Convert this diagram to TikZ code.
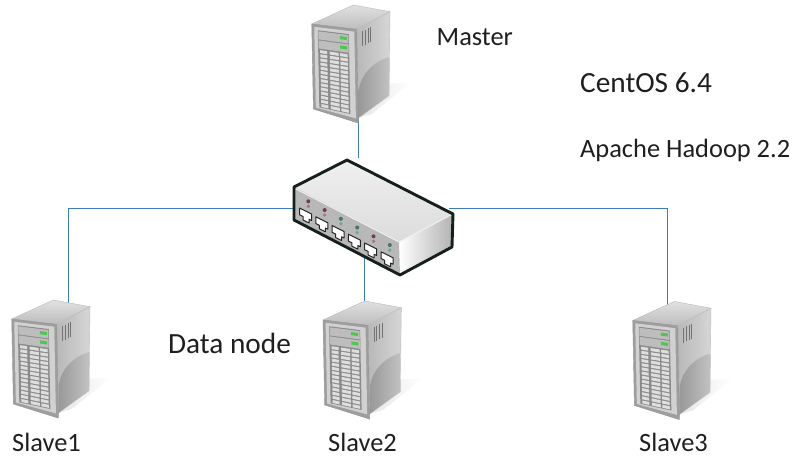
\documentclass[tikz,border=0pt]{standalone}
\usepackage{fontspec}
\setmainfont{Carlito}
\definecolor{linkblue}{HTML}{3E7CC0}
\definecolor{ledr}{HTML}{7A3A50}
\definecolor{ledg}{HTML}{3F7A5E}
\definecolor{swline}{HTML}{16201A}
\begin{document}
\begin{tikzpicture}[x=1pt,y=-1pt,
  declare function={
    ptx(\u,\v)=\u+0.02*\v;
    pty(\u,\v)=\v+\u*(0.118+0.0012*\v);
  },
  link/.style={draw=linkblue,line width=1pt},
  anchorbox/.style={inner sep=0pt,outer sep=0pt,minimum width=#1,minimum height=0pt},
  lab/.style={anchor=base west,inner sep=0pt,text=black!88},
  smalllab/.style={lab,font=\fontsize{26.4}{30}\selectfont},
  biglab/.style={lab,font=\fontsize{29.3}{34}\selectfont},
  server/.pic={
    % soft shadow
    \shade[left color=black!10,right color=white] (46,62) -- (100,58) -- (60,90) -- (46,94) -- cycle;
    % top
    \shade[top color=black!12,bottom color=black!26,draw=black!28,line width=.4pt]
      (0,0) -- (41.7,-19) -- (78.3,-12.3) -- (45,5.3) -- cycle;
    % side
    \shade[left color=black!28,right color=black!16,draw=black!26,line width=.4pt]
      (45,5.3) -- (78.3,-12.3) -- (77.3,71.7) -- (46.7,94) -- cycle;
    \shade[left color=black!40,right color=black!24]
      (47,66) .. controls (49,52) and (60,38) .. (77.5,33) -- (77.3,71.5) -- (47,93.5) -- cycle;
    \foreach \i in {0,1,2,3}{
      \draw[black!55,line width=1pt] ({51+2.7*\i},{7-1.3*\i}) -- ({51+2.7*\i},{22-1.3*\i});
    }
    % front frame
    \fill[black!38,draw=black!42,line width=.4pt]
      ({ptx(0,0)},{pty(0,0)}) -- ({ptx(45,0)},{pty(45,0)}) -- ({ptx(45,89)},{pty(45,89)}) -- ({ptx(0,85)},{pty(0,85)}) -- cycle;
    \fill[black!18]
      ({ptx(2.5,2.5)},{pty(2.5,2.5)}) -- ({ptx(42.5,2.5)},{pty(42.5,2.5)}) -- ({ptx(42.5,85)},{pty(42.5,85)}) -- ({ptx(2.5,83)},{pty(2.5,83)}) -- cycle;
    \fill[black!46]
      ({ptx(6,5.5)},{pty(6,5.5)}) -- ({ptx(37,5.5)},{pty(37,5.5)}) -- ({ptx(37,82)},{pty(37,82)}) -- ({ptx(6,82)},{pty(6,82)}) -- cycle;
    % drive bays
    \foreach \r in {0,1}{
      \pgfmathsetmacro{\vt}{6.5+9*\r}
      \pgfmathsetmacro{\vb}{14.5+9*\r}
      \pgfmathsetmacro{\vlt}{8.5+9*\r}
      \pgfmathsetmacro{\vlb}{11.5+9*\r}
      \fill[black!26] ({ptx(6.5,\vt)},{pty(6.5,\vt)}) -- ({ptx(36.5,\vt)},{pty(36.5,\vt)}) -- ({ptx(36.5,\vb)},{pty(36.5,\vb)}) -- ({ptx(6.5,\vb)},{pty(6.5,\vb)}) -- cycle;
      \fill[green!70!black!70] ({ptx(28,\vlt)},{pty(28,\vlt)}) -- ({ptx(35,\vlt)},{pty(35,\vlt)}) -- ({ptx(35,\vlb)},{pty(35,\vlb)}) -- ({ptx(28,\vlb)},{pty(28,\vlb)}) -- cycle;
    }
    % grid of cells
    \foreach \ul/\ur in {8/15,17.5/26.5,28/35.5}{
      \foreach \r in {0,...,13}{
        \pgfmathsetmacro{\vt}{25+4.1*\r}
        \pgfmathsetmacro{\vb}{27.9+4.1*\r}
        \fill[black!13] ({ptx(\ul,\vt)},{pty(\ul,\vt)}) -- ({ptx(\ur,\vt)},{pty(\ur,\vt)}) -- ({ptx(\ur,\vb)},{pty(\ur,\vb)}) -- ({ptx(\ul,\vb)},{pty(\ul,\vb)}) -- cycle;
      }
    }
  }
]
\useasboundingbox (0,0) rectangle (793,457);
\fill[white] (0,0) rectangle (793,457);

% named anchors used by the connectors
\node[anchorbox=0pt] (master) at (358,118) {};
\node[anchorbox=156pt,minimum height=100pt] (switch) at (371,208.3) {};
\node[anchorbox=0pt] (slave1) at (68,303) {};
\node[anchorbox=0pt] (slave2) at (364.7,303) {};
\node[anchorbox=0pt] (slave3) at (667.5,305) {};

\draw[link] (master) -- (master |- switch.north);
\draw[link] (switch.west) -| (slave1);
\draw[link] (switch.east) -| (slave3);
\draw[link] (switch.south -| slave2) -- (slave2);

% servers
\pic at (311.7,24) {server};
\pic at (11.7,319) {server};
\pic at (323,320) {server};
\pic at (632.7,320.5) {server};

% switch
\begin{scope}[line join=round]
  \shade[top color=black!6,bottom color=black!14]
    (294,187) -- (347,160) -- (453,214) -- (399,242) -- cycle;
  \shade[left color=white,right color=black!30]
    (399,242) -- (453,214) -- (452,247) -- (400,275) -- cycle;
  \fill[black!28] (294,187) -- (399,242) -- (400,275) -- (294,220) -- cycle;
  \draw[black!6,line width=1pt] (296,189) -- (399,242) -- (451,215);
  \draw[swline,line width=2.9pt]
    (294,187) -- (347,160) -- (453,214) -- (452,247) -- (400,275) -- (294,220) -- cycle;
  \foreach \i/\ledc in {0/ledr,1/ledr,2/ledg,3/ledg,4/ledr,5/ledg}{
    \begin{scope}[shift={({305+16.3*\i},{213+8.75*\i})}]
      \fill[\ledc] (3.3,-11.7) circle (2pt);
      \fill[\ledc!70!white] (3.3,-6.7) circle (1.8pt);
      \fill[white,draw=black!85,line width=1pt,line join=round]
        (-5.5,-5) -- (6.5,1) -- (6.5,7.5) -- (4,6.3) -- (4,10) -- (-2,7) -- (-2,3.5) -- (-5.5,1.8) -- cycle;
    \end{scope}
  }
\end{scope}

% labels
\node[smalllab] (tmaster) at (436.5,45.7) {Master};
\node[biglab] (tcentos) at (580,92.3) {CentOS 6.4};
\node[smalllab] (thadoop) at (580,157.7) {Apache Hadoop 2.2};
\node[biglab] (tdata) at (168,353) {Data node};
\node[smalllab] (ts1) at (12,451.5) {Slave1};
\node[smalllab] (ts2) at (328,451.5) {Slave2};
\node[smalllab] (ts3) at (639,451.5) {Slave3};
\end{tikzpicture}
\end{document}
